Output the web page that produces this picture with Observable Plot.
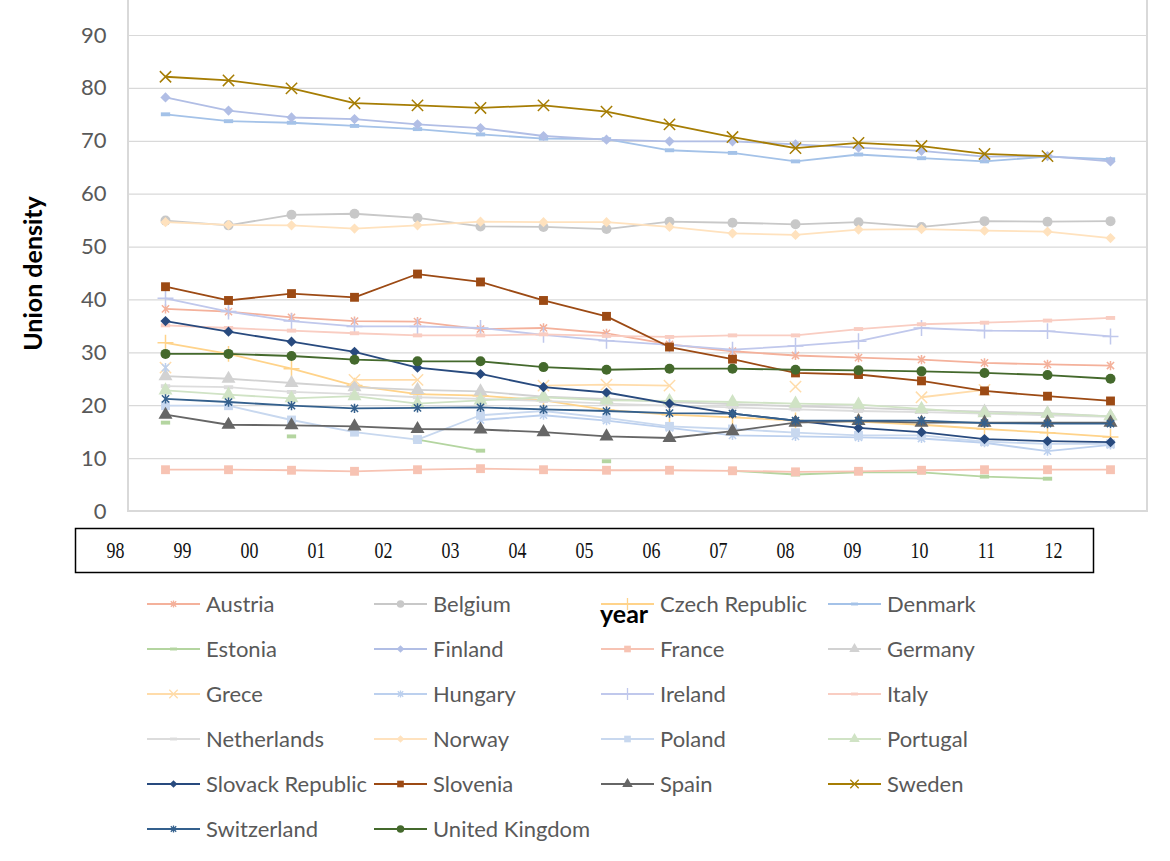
<!DOCTYPE html>
<html>
<head>
<meta charset="utf-8">
<script src="https://cdn.jsdelivr.net/npm/d3@7"></script>
<script src="https://cdn.jsdelivr.net/npm/@observablehq/plot@0.6"></script>
<style>
  body { margin: 0; background: #fff; }
  #wrap { position: relative; width: 1170px; height: 861px; overflow: hidden; font-family: Lato, "Open Sans", sans-serif; }
  #chart { position: absolute; left: 0; top: 0; }
  #periods { position: absolute; left: 0; top: 520px; }
  #legend { position: absolute; left: 147px; top: 581px; display: grid;
            grid-template-columns: repeat(4, 227px); grid-auto-rows: 45px; align-items: center; }
  .item { display: flex; align-items: center; font-size: 22px; color: #595959; white-space: nowrap; }
  .item svg { margin-right: 6px; flex: none; }
  #xtitle { position: absolute; left: 600px; top: 598px; font: bold 25px Lato, sans-serif; color: #000; }
</style>
</head>
<body>
<div id="wrap">
  <div id="chart"></div>
  <div id="periods"></div>
  <div id="legend"></div>
  <div id="xtitle">year</div>
</div>
<script>
// Period labels printed in the strip under the chart
const periodLabels = ["98", "99", "00", "01", "02", "03", "04", "05", "06", "07", "08", "09", "10", "11", "12"];
// Observation slots along the horizontal axis
const slots = d3.range(16);
const yTicks = [0, 10, 20, 30, 40, 50, 60, 70, 80, 90];

const countries = ["Austria", "Belgium", "Czech Republic", "Denmark", "Estonia", "Finland", "France", "Germany",
  "Grece", "Hungary", "Ireland", "Italy", "Netherlands", "Norway", "Poland", "Portugal",
  "Slovack Republic", "Slovenia", "Spain", "Sweden", "Switzerland", "United Kingdom"];

// Union density (%) per country; null = no observation
const austria     = [38.3, 37.8, 36.7, 36.0, 35.9, 34.5, 34.7, 33.7, 31.6, 30.3, 29.5, 29.1, 28.7, 28.1, 27.8, 27.6];
const belgium     = [55.0, 54.1, 56.1, 56.3, 55.5, 53.9, 53.8, 53.4, 54.8, 54.6, 54.3, 54.7, 53.8, 54.9, 54.8, 54.9];
const czech       = [31.9, 29.8, 27.0, 23.8, 22.2, 21.9, 21.0, 19.2, 18.3, 17.8, 17.2, 17.0, 16.4, 15.6, 14.9, 14.1];
const denmark     = [75.1, 73.8, 73.5, 72.9, 72.3, 71.3, 70.5, 70.4, 68.3, 67.8, 66.2, 67.5, 66.8, 66.2, 67.1, 66.6];
const estonia     = [16.8, null, 14.2, null, 13.6, 11.5, null, 9.5, null, 7.7, 7.0, 7.4, 7.4, 6.6, 6.2, null];
const finland     = [78.3, 75.8, 74.5, 74.2, 73.2, 72.5, 71.0, 70.3, 70.0, 70.0, 69.4, 68.8, 68.2, 67.1, 67.2, 66.2];
const france      = [7.9, 7.9, 7.8, 7.6, 7.9, 8.1, 7.9, 7.8, 7.8, 7.7, 7.5, 7.6, 7.8, 7.9, 7.9, 7.9];
const germany     = [25.6, 25.1, 24.3, 23.5, 23.0, 22.7, 21.7, 21.3, 20.7, 20.3, 19.9, 19.6, 19.2, 18.9, 18.6, 18.0];
const grece       = [27.2, null, null, 24.9, 24.9, null, 23.8, 24.0, 23.8, null, 23.6, null, 21.6, 23.0, null, null];
const hungary     = [27.2, null, null, null, null, 17.3, 18.2, 17.2, 15.8, 14.4, 14.2, 14.0, 13.8, 13.0, 11.4, 12.6];
const ireland     = [40.3, 37.8, 36.0, 35.0, 35.0, 34.7, 33.4, 32.3, 31.5, 30.6, 31.3, 32.2, 34.7, 34.2, 34.1, 33.1];
const italy       = [35.2, 34.7, 34.2, 33.7, 33.3, 33.3, 33.5, 33.2, 33.0, 33.3, 33.3, 34.5, 35.4, 35.7, 36.1, 36.6];
const netherlands = [23.7, 23.5, 22.6, 22.2, 21.6, 21.3, 20.9, 20.4, 20.0, 19.7, 19.3, 19.0, 18.8, 18.5, 18.2, 17.9];
const norway      = [54.7, 54.2, 54.1, 53.5, 54.1, 54.8, 54.7, 54.7, 53.8, 52.6, 52.3, 53.3, 53.4, 53.1, 52.9, 51.7];
const poland      = [20.0, 20.0, 17.3, 15.0, 13.6, 18.2, 19.0, 17.7, 16.1, 15.6, 14.9, 14.4, 14.4, 13.2, 12.8, 12.8];
const portugal    = [22.9, 22.1, 21.4, 21.8, 20.4, 21.0, 21.6, 21.0, 20.9, 20.7, 20.4, 20.2, 19.4, 18.6, 18.5, 18.0];
const slovakia    = [36.0, 34.0, 32.1, 30.2, 27.2, 26.0, 23.5, 22.5, 20.4, 18.5, 17.2, 15.8, 15.0, 13.7, 13.3, 13.1];
const slovenia    = [42.5, 39.9, 41.2, 40.5, 44.9, 43.4, 39.9, 36.9, 31.1, 28.8, 26.2, 25.9, 24.7, 22.8, 21.8, 20.9];
const spain       = [18.3, 16.4, 16.3, 16.1, 15.6, 15.5, 15.0, 14.2, 13.9, 15.2, 16.8, 17.1, 16.8, 16.8, 16.8, 16.8];
const sweden      = [82.2, 81.5, 80.0, 77.2, 76.8, 76.3, 76.8, 75.6, 73.2, 70.8, 68.7, 69.7, 69.1, 67.6, 67.2, null];
const switzerland = [21.3, 20.7, 20.0, 19.5, 19.6, 19.7, 19.3, 19.0, 18.6, 18.5, 17.2, 17.2, 17.2, 16.7, 16.6, 16.6];
const uk          = [29.8, 29.8, 29.4, 28.7, 28.4, 28.4, 27.3, 26.8, 27.0, 27.0, 26.8, 26.7, 26.5, 26.2, 25.8, 25.1];

const seriesValues = [austria, belgium, czech, denmark, estonia, finland, france, germany, grece, hungary,
  ireland, italy, netherlands, norway, poland, portugal, slovakia, slovenia, spain, sweden, switzerland, uk];

// Marker shapes not built into Plot
const dashSymbol = { draw(ctx, size) { const w = Math.sqrt(size) * 1.05, h = w * 0.42; ctx.rect(-w / 2, -h / 2, w, h); } };
const starSymbol = { draw(ctx, size) {
  const r = Math.sqrt(size) * 0.52, d = r * 0.78;
  ctx.moveTo(-d, -d); ctx.lineTo(d, d); ctx.moveTo(d, -d); ctx.lineTo(-d, d);
  ctx.moveTo(0, -r); ctx.lineTo(0, r);
} };

// Per-series appearance: [colour, marker, marker drawn as outline?]
const styles = {
  "Austria":          ["#F4B19B", starSymbol, true],
  "Belgium":          ["#C8C8C8", "circle", false],
  "Czech Republic":   ["#FFD38A", "plus", true],
  "Denmark":          ["#A4C2E8", dashSymbol, false],
  "Estonia":          ["#B4D5A0", dashSymbol, false],
  "Finland":          ["#B1BEE5", "diamond2", false],
  "France":           ["#F7C3B3", "square", false],
  "Germany":          ["#D2D2D2", "triangle", false],
  "Grece":            ["#FFDCAA", "times", true],
  "Hungary":          ["#BCD0EE", starSymbol, true],
  "Ireland":          ["#C0C8EC", "plus", true],
  "Italy":            ["#F9CDC2", dashSymbol, false],
  "Netherlands":      ["#DCDCDC", dashSymbol, false],
  "Norway":           ["#FFE2BE", "diamond2", false],
  "Poland":           ["#C8D8EF", "square", false],
  "Portugal":         ["#D0E3C5", "triangle", false],
  "Slovack Republic": ["#284A7E", "diamond2", false],
  "Slovenia":         ["#9C4A14", "square", false],
  "Spain":            ["#666666", "triangle", false],
  "Sweden":           ["#A67D04", "times", true],
  "Switzerland":      ["#34608D", starSymbol, true],
  "United Kingdom":   ["#44692C", "circle", false]
};
const markerRadius = { circle: 5, square: 5, diamond2: 4.6, triangle: 5.2, plus: 5.2, times: 5.2 };
const radiusOf = (s) => typeof s === "string" ? markerRadius[s] : 5;

const rows = countries.map((c, k) => seriesValues[k].map((v, i) => ({ country: c, slot: i, value: v })));

// Plot-area border: left, bottom and right edges
function plotBorder(index, scales, values, dim) {
  const l = dim.marginLeft, r = dim.width - dim.marginRight, b = dim.height - dim.marginBottom;
  const g = d3.create("svg:g");
  g.append("path").attr("d", `M${l},0V${b}H${r}V0`).attr("fill", "none")
    .attr("stroke", "#d9d9d9").attr("stroke-width", 2);
  return g.node();
}

const seriesMarks = countries.flatMap((c, k) => {
  const [color, symbol, outline] = styles[c];
  const data = rows[k];
  const pts = data.filter(d => d.value != null);
  return [
    Plot.line(data, { x: "slot", y: "value", stroke: color, strokeWidth: 1.8 }),
    outline
      ? Plot.dot(pts, { x: "slot", y: "value", symbol, r: radiusOf(symbol), stroke: color, strokeWidth: 1.5, fill: "none" })
      : Plot.dot(pts, { x: "slot", y: "value", symbol, r: radiusOf(symbol), fill: color, stroke: "none" })
  ];
});

const chart = Plot.plot({
  width: 1170,
  height: 520,
  marginLeft: 128,
  marginRight: 23,
  marginTop: 35,
  marginBottom: 9,
  style: { fontFamily: "Lato, sans-serif", background: "transparent", overflow: "visible" },
  x: { type: "point", domain: slots, padding: 0.5, axis: null },
  y: { domain: [0, 90], axis: null },
  marks: [
    Plot.gridY(yTicks, { stroke: "#d9d9d9", strokeOpacity: 1, strokeWidth: 1.2 }),
    plotBorder,
    Plot.axisY(yTicks, { tickSize: 0, tickPadding: 22, fontSize: 22, fill: "#595959", label: null }),
    Plot.text(["Union density"], { frameAnchor: "left", textAnchor: "middle", dx: -95, rotate: -90,
      fontSize: 25, fontWeight: "bold", fill: "#000" }),
    ...seriesMarks
  ]
});
document.getElementById("chart").append(chart);

// Strip of period labels in a boxed row
const periods = Plot.plot({
  width: 1170,
  height: 60,
  marginLeft: 75,
  marginRight: 77,
  marginTop: 8,
  marginBottom: 8,
  style: { background: "transparent" },
  x: { type: "point", domain: periodLabels, padding: 0.56, axis: null },
  y: { domain: [0, 1], axis: null },
  marks: [
    Plot.frame({ stroke: "#000", strokeWidth: 1.5 }),
    Plot.text(periodLabels, { x: d => d, frameAnchor: "middle", fontSize: 23,
      fontFamily: "Liberation Serif, serif", fill: "#111" })
  ]
});
periods.querySelectorAll("text").forEach(t => {
  const tr = t.getAttribute("transform") || "";
  t.setAttribute("transform", tr + " scale(0.78,1)");
});
document.getElementById("periods").append(periods);

// Legend
const legend = d3.select("#legend");
const d3Symbols = { circle: d3.symbolCircle, square: d3.symbolSquare, diamond2: d3.symbolDiamond2,
  triangle: d3.symbolTriangle, plus: d3.symbolPlus, times: d3.symbolTimes };
countries.forEach(c => {
  const [color, symbol, outline] = styles[c];
  const item = legend.append("div").attr("class", "item");
  const sw = item.append("svg").attr("width", 53).attr("height", 20);
  sw.append("line").attr("x1", 0).attr("x2", 53).attr("y1", 10).attr("y2", 10)
    .attr("stroke", color).attr("stroke-width", 2);
  const type = typeof symbol === "string" ? d3Symbols[symbol] : symbol;
  const r = radiusOf(symbol) * 0.75;
  const p = sw.append("path").attr("transform", "translate(26.5,10)")
    .attr("d", d3.symbol(type, Math.PI * r * r)());
  if (outline) p.attr("fill", "none").attr("stroke", color).attr("stroke-width", 1.3);
  else p.attr("fill", color);
  item.append("span").text(c);
});
</script>
</body>
</html>
